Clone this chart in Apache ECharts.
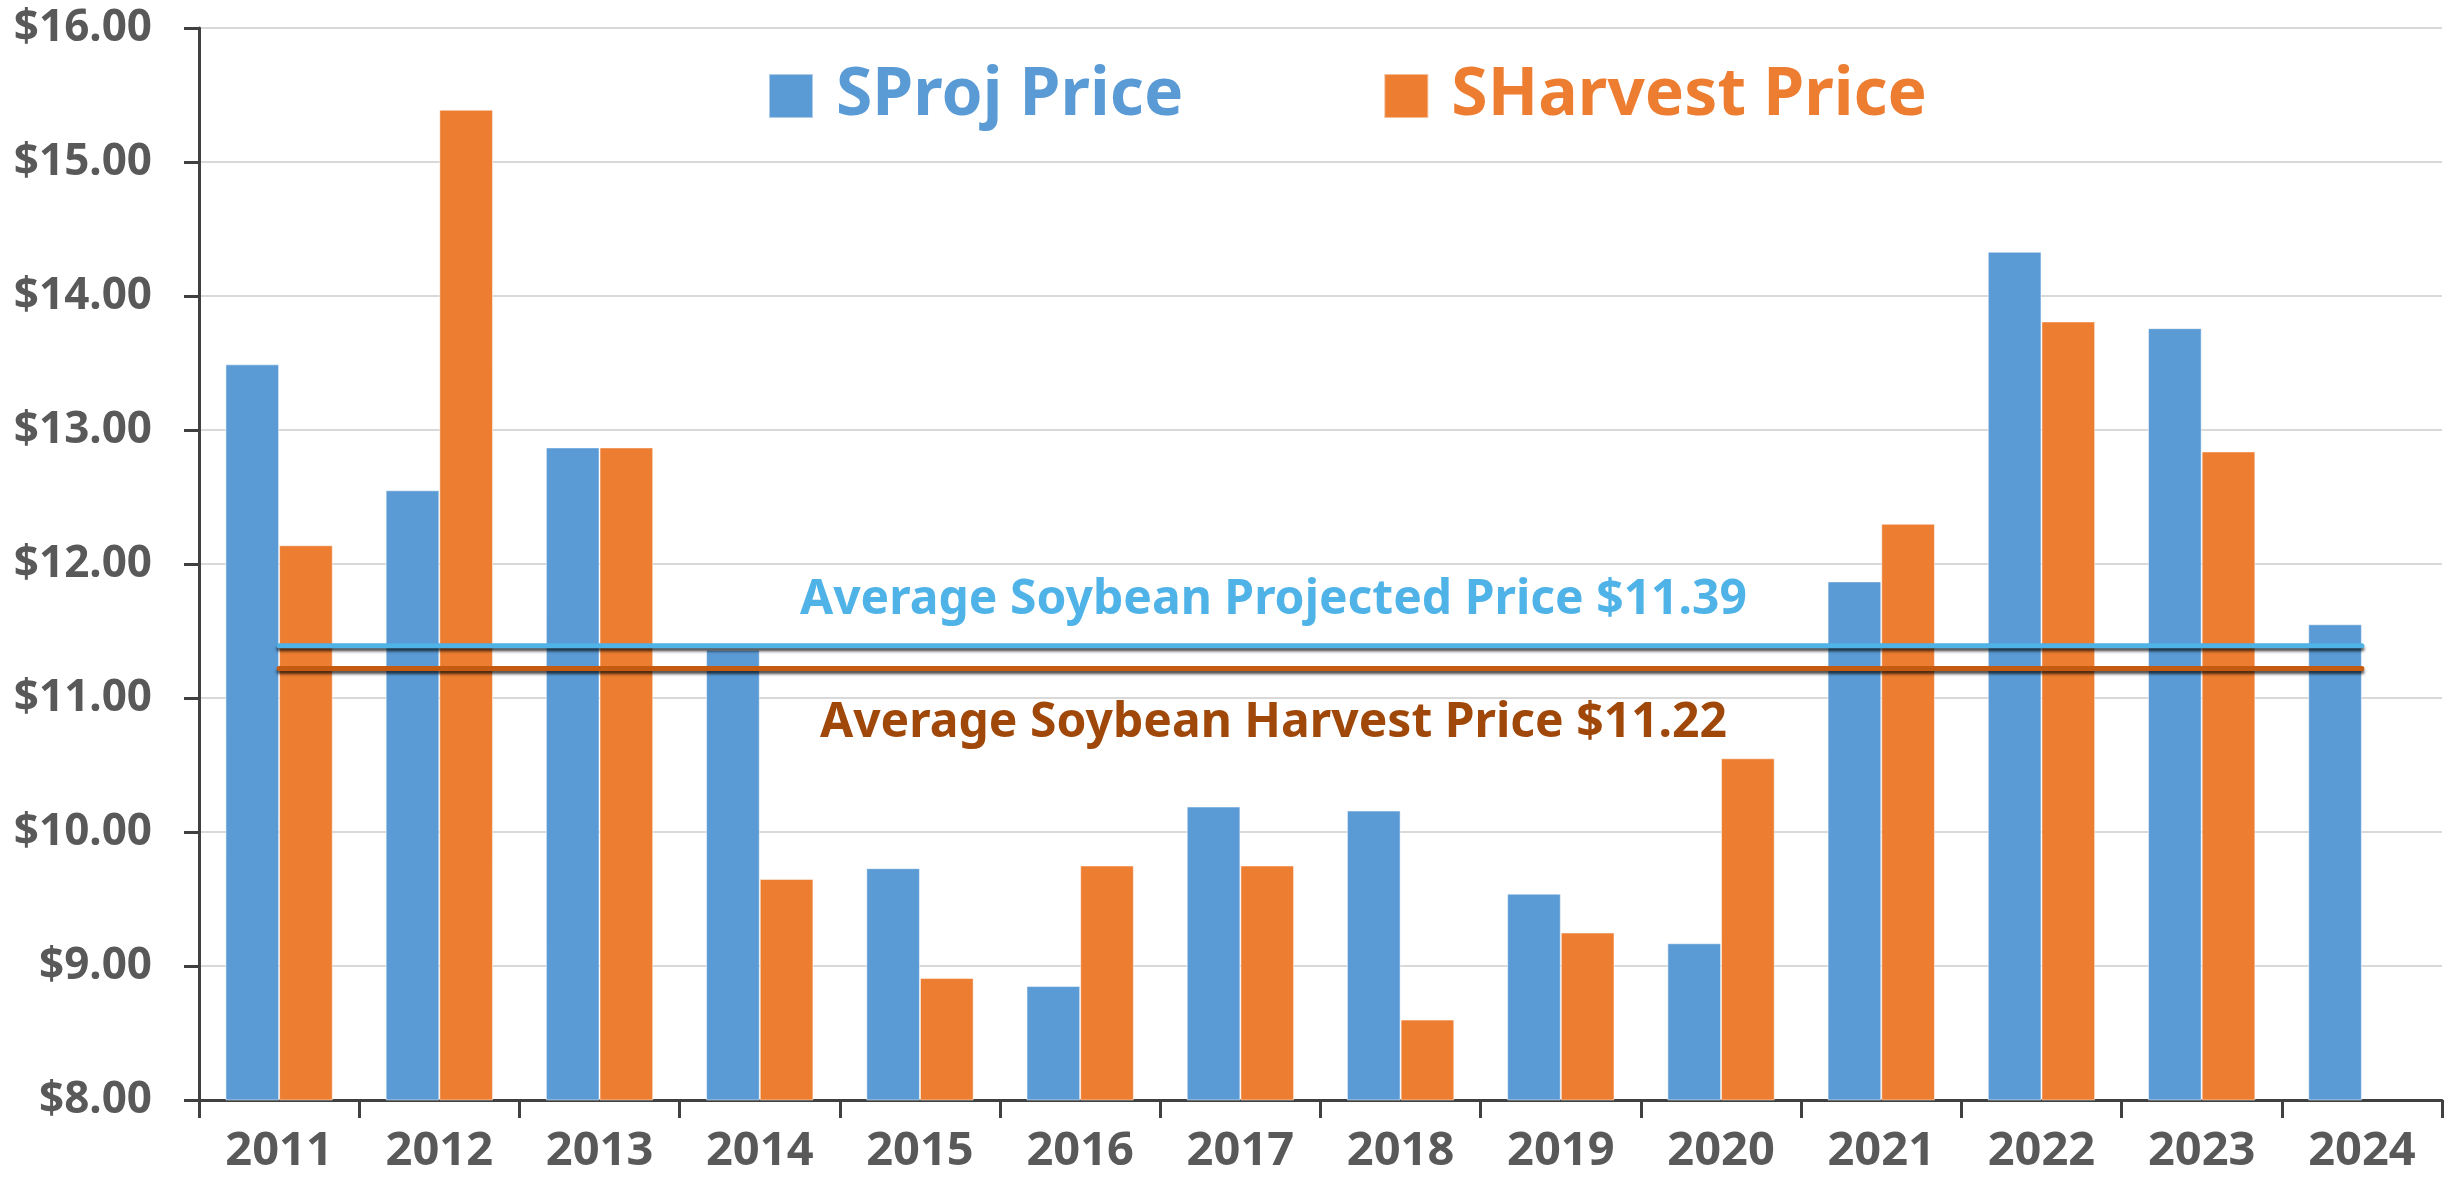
<!DOCTYPE html>
<html>
<head>
<meta charset="utf-8">
<title>Soybean Projected vs Harvest Price</title>
<script src="https://cdn.jsdelivr.net/npm/echarts@6/dist/echarts.min.js"></script>
<style>
  html, body { margin: 0; padding: 0; background: #fff; }
  #chart { width: 2451px; height: 1179px; }
</style>
</head>
<body>
<div id="chart"></div>
<script>
// 数据
const years = ['2011', '2012', '2013', '2014', '2015', '2016', '2017',
  '2018', '2019', '2020', '2021', '2022', '2023', '2024']
const projPrice = [13.49, 12.55, 12.87, 11.36, 9.73, 8.85, 10.19,
  10.16, 9.54, 9.17, 11.87, 14.33, 13.76, 11.55]
const harvestPrice = [12.14, 15.39, 12.87, 9.65, 8.91, 9.75, 9.75,
  8.60, 9.25, 10.55, 12.30, 13.81, 12.84, null]
const avgProj = 11.39
const avgHarvest = 11.22

const axisColor = '#404040'
const labelColor = '#595959'
const font = '"Noto Sans", "Open Sans", sans-serif'

let myChart = echarts.init(document.getElementById('chart'))
myChart.setOption({
  animation: false,
  grid: { left: 199, right: 9, top: 28, bottom: 79 },
  legend: {
    left: 763,
    top: 58,
    itemWidth: 44,
    itemHeight: 44,
    itemGap: 200,
    icon: 'rect',
    data: ['SProj Price', 'SHarvest Price'],
    textStyle: {
      fontFamily: font,
      fontWeight: 'bold',
      fontSize: 66,
      color: 'inherit',
      padding: [0, 0, 0, 18]
    }
  },
  xAxis: {
    type: 'category',
    data: years,
    axisLine: { lineStyle: { color: axisColor, width: 3 } },
    axisTick: { show: true, length: 18, lineStyle: { color: axisColor, width: 3 } },
    axisLabel: {
      color: labelColor,
      fontFamily: font,
      fontWeight: 'bold',
      fontSize: 47,
      margin: 28
    },
    splitLine: { show: false }
  },
  yAxis: {
    type: 'value',
    min: 8,
    max: 16,
    interval: 1,
    axisLine: { show: true, lineStyle: { color: axisColor, width: 3 } },
    axisTick: { show: true, length: 15, lineStyle: { color: axisColor, width: 3 } },
    axisLabel: {
      color: labelColor,
      fontFamily: font,
      fontWeight: 'bold',
      fontSize: 44,
      margin: 47,
      formatter: v => '$' + v.toFixed(2)
    },
    splitLine: { lineStyle: { color: '#d9d9d9', width: 2 } }
  },
  series: [
    {
      name: 'SProj Price',
      type: 'bar',
      data: projPrice,
      barGap: '0%',
      barCategoryGap: '33%',
      itemStyle: { color: '#5b9bd5', borderColor: 'rgba(255,255,255,0.5)', borderWidth: 1 }
    },
    {
      name: 'SHarvest Price',
      type: 'bar',
      data: harvestPrice,
      itemStyle: { color: '#ed7d31', borderColor: 'rgba(255,255,255,0.5)', borderWidth: 1 }
    },
    {
      name: 'avgProj',
      type: 'line',
      z: 5,
      symbol: 'none',
      data: years.map(() => avgProj),
      lineStyle: {
        color: '#4fb3e8',
        width: 5,
        cap: 'round',
        shadowColor: 'rgba(0,0,0,0.7)',
        shadowBlur: 3,
        shadowOffsetY: 3
      }
    },
    {
      name: 'avgHarvest',
      type: 'line',
      z: 5,
      symbol: 'none',
      data: years.map(() => avgHarvest),
      lineStyle: {
        color: '#c55a11',
        width: 5,
        cap: 'round',
        shadowColor: 'rgba(0,0,0,0.7)',
        shadowBlur: 3,
        shadowOffsetY: 3
      }
    }
  ],
  graphic: [
    {
      type: 'text',
      left: 800,
      top: 576,
      style: {
        text: 'Average Soybean Projected Price $' + avgProj.toFixed(2),
        fill: '#4fb3e8',
        font: 'bold 48px ' + font
      }
    },
    {
      type: 'text',
      left: 820,
      top: 699,
      style: {
        text: 'Average Soybean Harvest Price $' + avgHarvest.toFixed(2),
        fill: '#a0470a',
        font: 'bold 48px ' + font
      }
    }
  ]
})
</script>
</body>
</html>
